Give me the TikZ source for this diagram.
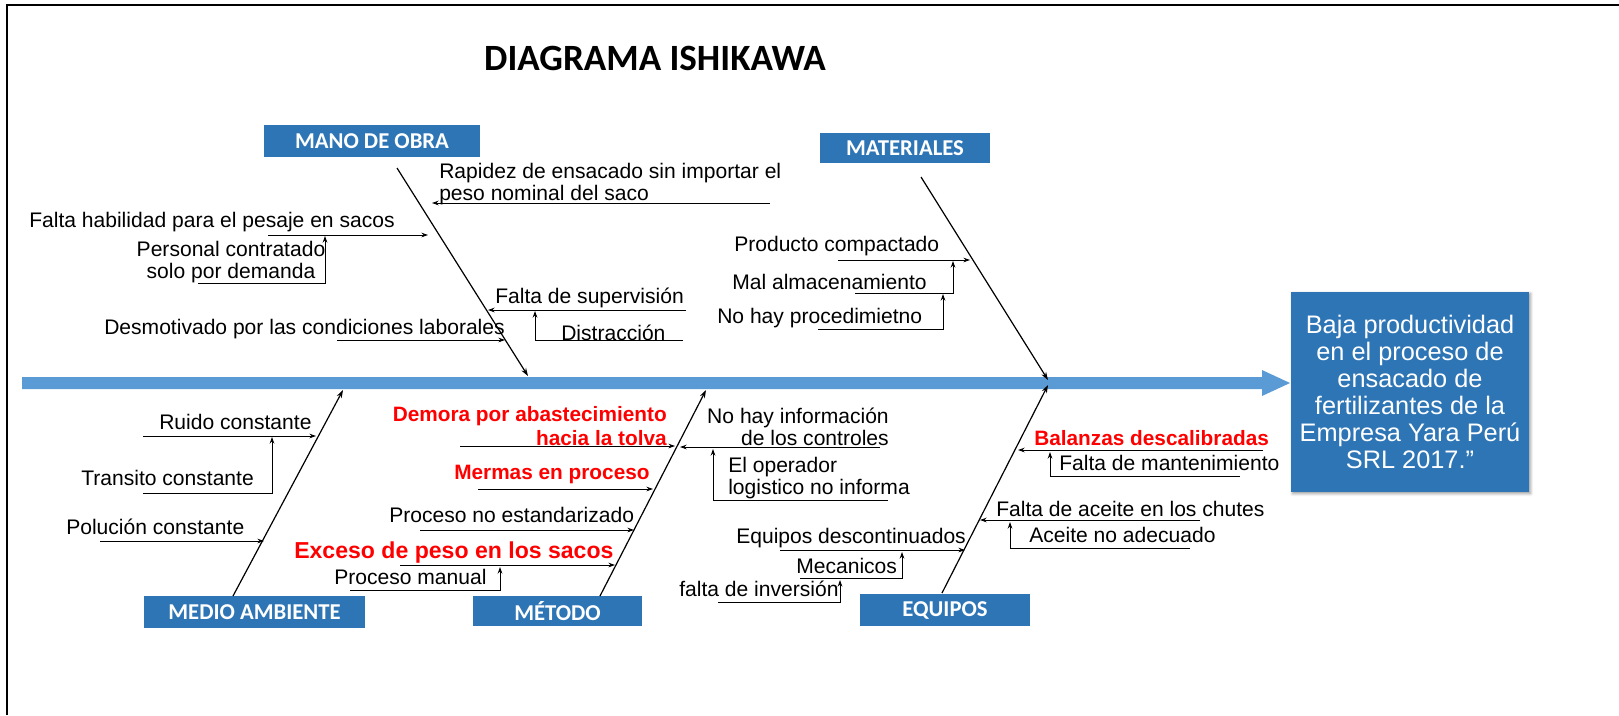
\documentclass[tikz,border=0pt]{standalone}
\usepackage{fontspec}
\setmainfont{Liberation Sans}
\newfontfamily\headfont{Carlito}
\usepackage{tikz}
\usetikzlibrary{arrows.meta}
\usetikzlibrary{shadows.blur}

\definecolor{boxblue}{RGB}{46,117,182}
\definecolor{spineblue}{RGB}{91,155,213}

\tikzset{
  catbox/.style={fill=boxblue, text=white, inner sep=0pt, font=\headfont\bfseries\fontsize{17}{20}\selectfont},
  lbl/.style={inner sep=0.75pt, font=\fontsize{15.8}{16.5}\selectfont},
  redlbl/.style={inner sep=0.75pt, text=red, font=\bfseries\fontsize{15.6}{17.5}\selectfont},
  cause/.style={line width=0.7pt, -{Stealth[length=5pt,width=3.5pt]}},
  bone/.style={line width=0.9pt, -{Stealth[length=6pt,width=4pt]}},
}

\begin{document}
\begin{tikzpicture}[x=0.75pt,y=0.75pt,yscale=-1,xscale=1]
\useasboundingbox (0,0) rectangle (1619,715);

%Frame
\draw [line width=2.2pt] (7,715) -- (7,5) -- (1619,5) ;

% Title
\draw (655,58) node [inner sep=0.75pt, font=\headfont\bfseries\fontsize{27.8}{30}\selectfont] (title) {DIAGRAMA ISHIKAWA};

% Category boxes
\node [catbox, minimum width=162pt, minimum height=24pt] (mano) at (372,141) {MANO DE OBRA};
\node [catbox, minimum width=127.5pt, minimum height=22.5pt] (mat) at (905,148) {MATERIALES};
\node [catbox, minimum width=165.75pt, minimum height=24pt] (amb) at (254.5,612) {MEDIO AMBIENTE};
\node [catbox, minimum width=126.75pt, minimum height=22.5pt] (met) at (557.5,611) {MÉTODO};
\node [catbox, minimum width=127.5pt, minimum height=24pt] (equ) at (945,610) {EQUIPOS};

% Effect box
\node [fill=boxblue, text=white, align=center, minimum width=178.5pt, minimum height=150pt, inner sep=0pt,
  blur shadow={shadow xshift=1.2pt, shadow yshift=-1.2pt, shadow blur steps=4},
  font=\fontsize{19}{20.3}\selectfont] (effect) at (1410,392)
  {Baja productividad\\en el proceso de\\ensacado de\\fertilizantes de la\\Empresa Yara Perú\\SRL 2017.”};

% Spine
\coordinate (tail) at (22,383);
\coordinate (head) at (1290,383);
\fill [spineblue] (tail) ++(0,-6) -- (1262,377) -- (1262,370) -- (head) -- (1262,396) -- (1262,389) -- (22,389) -- cycle ;

% Bones
\coordinate (moT) at (397,168); \coordinate (moB) at (528,376);
\coordinate (maT) at (921,177); \coordinate (maB) at (1048,380);
\coordinate (amB) at (233,596); \coordinate (amT) at (343,390);
\coordinate (meB) at (600,596); \coordinate (meT) at (706,390);
\coordinate (eqB) at (942,593); \coordinate (eqT) at (1048,385);
\draw [bone] (moT) -- (moB) ;
\draw [bone] (maT) -- (maB) ;
\draw [bone] (amB) -- (amT) ;
\draw [bone] (meB) -- (meT) ;
\draw [bone] (eqB) -- (eqT) ;

%% Mano de obra
\draw (438,184) node [lbl, anchor=west, align=left] (mo1) {Rapidez de ensacado sin importar el\\peso nominal del saco};
\draw (28,222) node [lbl, anchor=west] (mo2) {Falta habilidad para el pesaje en sacos};
\draw (231,262) node [lbl, align=center] (mo3) {Personal contratado\\solo por demanda};
\draw (103,329) node [lbl, anchor=west] (mo4) {Desmotivado por las condiciones laborales};
\draw (494,298) node [lbl, anchor=west] (mo5) {Falta de supervisión};
\draw (560,333) node [lbl, anchor=west] (mo6) {Distracción};
\coordinate (mo1a) at (770,203); \coordinate (mo1b) at (432,203);
\coordinate (mo2a) at (268,235); \coordinate (mo2b) at (428,235);
\coordinate (mo3a) at (198,283); \coordinate (mo3b) at (325,236);
\coordinate (mo4a) at (337,340); \coordinate (mo4b) at (505,340);
\coordinate (mo5a) at (686,310); \coordinate (mo5b) at (488,310);
\coordinate (mo6a) at (683,340); \coordinate (mo6b) at (535,311);
\draw [cause] (mo1a) -- (mo1b) ;
\draw [cause] (mo2a) -- (mo2b) ;
\draw [cause] (mo3a) -| (mo3b) ;
\draw [cause] (mo4a) -- (mo4b) ;
\draw [cause] (mo5a) -- (mo5b) ;
\draw [cause] (mo6a) -| (mo6b) ;

%% Materiales
\draw (733,246) node [lbl, anchor=west] (ma1) {Producto compactado};
\draw (731,282) node [lbl, anchor=west] (ma2) {Mal almacenamiento};
\draw (716,318) node [lbl, anchor=west] (ma3) {No hay procedimietno};
\coordinate (ma1a) at (838,260); \coordinate (ma1b) at (970,260);
\coordinate (ma2a) at (855,293); \coordinate (ma2b) at (953,261);
\coordinate (ma3a) at (818,329); \coordinate (ma3b) at (943,294);
\draw [cause] (ma1a) -- (ma1b) ;
\draw [cause] (ma2a) -| (ma2b) ;
\draw [cause] (ma3a) -| (ma3b) ;

%% Medio ambiente
\draw (158,422) node [lbl, anchor=west] (am1) {Ruido constante};
\draw (80,478) node [lbl, anchor=west] (am2) {Transito constante};
\draw (65,527) node [lbl, anchor=west] (am3) {Polución constante};
\coordinate (am1a) at (143,436); \coordinate (am1b) at (316,436);
\coordinate (am2a) at (143,493); \coordinate (am2b) at (272,437);
\coordinate (am3a) at (100,541); \coordinate (am3b) at (264,541);
\draw [cause] (am1a) -- (am1b) ;
\draw [cause] (am2a) -| (am2b) ;
\draw [cause] (am3a) -- (am3b) ;

%% Metodo
\draw (668,426) node [redlbl, anchor=east, align=right] (me1) {Demora por abastecimiento\\hacia la tolva};
\draw (453,474) node [redlbl, anchor=west] (me2) {Mermas en proceso};
\draw (388,515) node [lbl, anchor=west] (me3) {Proceso no estandarizado};
\draw (293,553) node [redlbl, anchor=west, font=\bfseries\fontsize{17.3}{19}\selectfont] (me4) {Exceso de peso en los sacos};
\draw (333,577) node [lbl, anchor=west] (me5) {Proceso manual};
\draw (890,427) node [lbl, anchor=east, align=right] (me6) {No hay información\\de los controles};
\draw (727,478) node [lbl, anchor=west, align=left] (me7) {El operador\\logistico no informa};
\coordinate (me1a) at (460,446); \coordinate (me1b) at (675,446);
\coordinate (me2a) at (478,489); \coordinate (me2b) at (653,489);
\coordinate (me3a) at (420,530); \coordinate (me3b) at (634,530);
\coordinate (me4a) at (400,565); \coordinate (me4b) at (615,565);
\coordinate (me5a) at (350,590); \coordinate (me5b) at (500,567);
\coordinate (me6a) at (880,447); \coordinate (me6b) at (680,447);
\coordinate (me7a) at (888,500); \coordinate (me7b) at (713,449);
\draw [cause] (me1a) -- (me1b) ;
\draw [cause] (me2a) -- (me2b) ;
\draw [cause] (me3a) -- (me3b) ;
\draw [cause] (me4a) -- (me4b) ;
\draw [cause] (me5a) -| (me5b) ;
\draw [cause] (me6a) -- (me6b) ;
\draw [cause] (me7a) -| (me7b) ;

%% Equipos
\draw (1033,438) node [redlbl, anchor=west] (eq1) {Balanzas descalibradas};
\draw (1058,463) node [lbl, anchor=west] (eq2) {Falta de mantenimiento};
\draw (995,509) node [lbl, anchor=west] (eq3) {Falta de aceite en los chutes};
\draw (1028,535) node [lbl, anchor=west] (eq4) {Aceite no adecuado};
\draw (735,538) node [lbl, anchor=west] (eq5) {Equipos descontinuados};
\draw (795,566) node [lbl, anchor=west] (eq6) {Mecanicos};
\draw (678,589) node [lbl, anchor=west] (eq7) {falta de inversión};
\coordinate (eq1a) at (1263,450); \coordinate (eq1b) at (1018,450);
\coordinate (eq2a) at (1240,476); \coordinate (eq2b) at (1050,452);
\coordinate (eq3a) at (1200,520); \coordinate (eq3b) at (980,520);
\coordinate (eq4a) at (1190,548); \coordinate (eq4b) at (1010,522);
\coordinate (eq5a) at (780,550); \coordinate (eq5b) at (965,550);
\coordinate (eq6a) at (800,578); \coordinate (eq6b) at (902,552);
\coordinate (eq7a) at (718,602); \coordinate (eq7b) at (840,580);
\draw [cause] (eq1a) -- (eq1b) ;
\draw [cause] (eq2a) -| (eq2b) ;
\draw [cause] (eq3a) -- (eq3b) ;
\draw [cause] (eq4a) -| (eq4b) ;
\draw [cause] (eq5a) -- (eq5b) ;
\draw [cause] (eq6a) -| (eq6b) ;
\draw [cause] (eq7a) -| (eq7b) ;

\end{tikzpicture}
\end{document}
